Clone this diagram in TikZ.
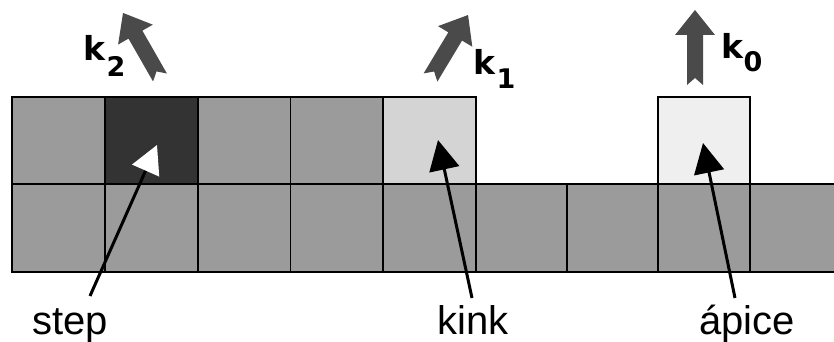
\documentclass[tikz,border=0pt]{standalone}
\usepackage{fontspec}
\setmainfont{Liberation Sans}
\newfontfamily\kfont{DejaVu Sans}
\usetikzlibrary{arrows.meta}
\definecolor{cellgray}{HTML}{9B9B9B}
\definecolor{celldark}{HTML}{333333}
\definecolor{cellkink}{HTML}{D4D4D4}
\definecolor{cellapice}{HTML}{EFEFEF}
\definecolor{karrowcol}{HTML}{4A4A4A}
\newcommand\cellbox[5]{\filldraw[gridline,fill=#5] (#1,#3) rectangle (#2,#4);}
\newcommand\blockarrow[4]{%
  \begin{scope}[shift={(#1,#2)},rotate=#3]
    \fill[karrow] (-8,0) -- (0,7) -- (8,0) -- (8,#4-25) -- (20,#4-25) -- (0,#4)
      -- (-20,#4-25) -- (-8,#4-25) -- cycle;
  \end{scope}}
\begin{document}
\begin{tikzpicture}[x=1pt,y=1pt,
  gridline/.style={draw=black,line width=1.6pt},
  karrow/.style={fill=karrowcol},
  lab/.style={inner sep=0pt,font=\fontsize{40}{48}\selectfont},
  klab/.style={inner sep=0pt,font=\kfont\bfseries\fontsize{33}{36}\selectfont},
  pointer/.style={draw=black,line width=3pt},
]
\useasboundingbox (0,0) rectangle (834,342);
\fill[white] (0,0) rectangle (834,342);
% bottom row
\cellbox{12}{105}{70}{158}{cellgray}
\cellbox{105}{198}{70}{158}{cellgray}
\cellbox{198}{290.5}{70}{158}{cellgray}
\cellbox{290.5}{383}{70}{158}{cellgray}
\cellbox{383}{476}{70}{158}{cellgray}
\cellbox{476}{567}{70}{158}{cellgray}
\cellbox{567}{658}{70}{158}{cellgray}
\cellbox{658}{750}{70}{158}{cellgray}
\fill[cellgray] (750,70) rectangle (834,158);
\draw[gridline] (836,158) -- (750,158) -- (750,70) -- (836,70);
% top row
\cellbox{12}{105}{158}{245}{cellgray}
\cellbox{105}{198}{158}{245}{celldark}
\cellbox{198}{290.5}{158}{245}{cellgray}
\cellbox{290.5}{383}{158}{245}{cellgray}
\cellbox{383}{476}{158}{245}{cellkink}
\cellbox{658}{750}{158}{245}{cellapice}
% block arrows
\blockarrow{160}{264.5}{29.8}{74.4}
\blockarrow{430.5}{264.5}{-31}{72.9}
\blockarrow{695}{257}{0}{75}
% k labels
\node[klab,anchor=base west] (k2) at (83,281) {k\kern1.5pt\lower16pt\hbox{\fontsize{27}{27}\selectfont 2}};
\node[klab,anchor=base west] (k1) at (473,267) {k\kern1.5pt\lower14pt\hbox{\fontsize{27}{27}\selectfont 1}};
\node[klab,anchor=base west] (k0) at (721,283) {k\kern0.5pt\lower13pt\hbox{\fontsize{27}{27}\selectfont 0}};
% bottom labels
\node[lab,anchor=base] (step) at (70,7) {step};
\node[lab,anchor=base] (kink) at (473,7) {kink};
\node[lab,anchor=base] (apice) at (747,7) {ápice};
\coordinate (stepend) at (90,46);
\coordinate (kinkend) at (472,44);
\coordinate (apiceend) at (735,44);
\coordinate (steptip) at (157,197);
\coordinate (kinktip) at (438,202);
\coordinate (apicetip) at (703,199);
\draw[pointer,-{Triangle[length=28pt,width=29pt,color=white]}] (stepend) -- (steptip);
\draw[pointer,-{Triangle[length=30pt,width=30pt]}] (kinkend) -- (kinktip);
\draw[pointer,-{Triangle[length=30pt,width=30pt]}] (apiceend) -- (apicetip);
\end{tikzpicture}
\end{document}
